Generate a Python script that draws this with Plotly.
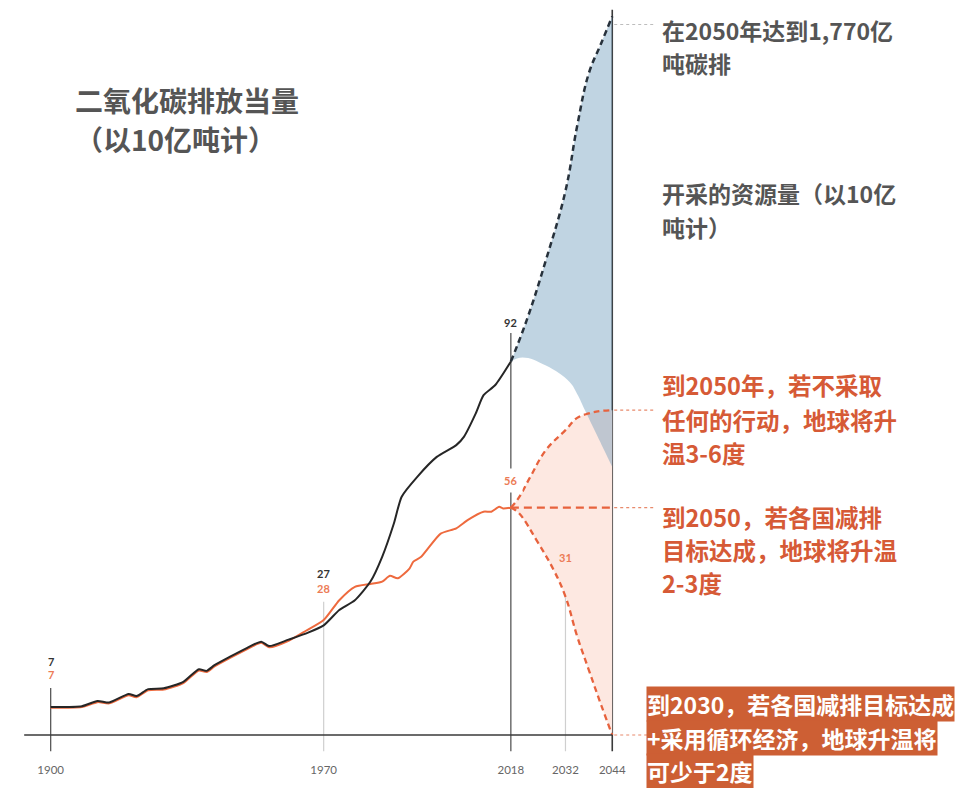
import plotly.graph_objects as go

# ---------------- data ----------------
hist_years_black = [1900, 1908, 1912, 1915, 1920, 1922, 1925, 1929, 1934, 1938, 1940, 1942, 1946,
                    1950, 1954, 1956, 1961, 1966, 1970, 1974, 1978, 1982, 1985, 1988, 1990, 1994,
                    1999, 2004, 2006, 2009, 2011, 2014, 2018]
hist_black = [6.9, 7.1, 8.4, 8.0, 10.1, 9.6, 11.3, 11.5, 13.1, 16.2, 15.8, 17.2, 19.3,
              21.3, 23.0, 21.9, 23.5, 25.2, 27.0, 30.8, 33.2, 37.8, 43.9, 52.1, 58.7, 63.6,
              68.5, 71.4, 73.5, 79.2, 83.7, 86.2, 92.0]

hist_years_red = [1900, 1908, 1912, 1915, 1920, 1922, 1925, 1929, 1934, 1938, 1940, 1942, 1946,
                  1950, 1954, 1956, 1961, 1965, 1970, 1974, 1978, 1982, 1985, 1987, 1989, 1992,
                  1993, 1995, 2000, 2004, 2007, 2011, 2013, 2015, 2016, 2018]
hist_red = [6.7, 6.9, 8.1, 7.8, 9.8, 9.3, 11.0, 11.2, 12.8, 15.9, 15.5, 16.9, 19.0,
            21.0, 22.7, 21.6, 23.2, 25.4, 28.3, 33.2, 36.5, 37.2, 37.8, 39.2, 38.6, 41.0,
            42.7, 43.9, 49.6, 50.9, 53.0, 55.0, 55.0, 56.2, 55.8, 56.0]

# projections
proj_black_years = [2018, 2022, 2027, 2032, 2035, 2038, 2041, 2044]
proj_black = [92, 102, 117, 134, 150, 163, 170, 177]

resource_low_years = [2018, 2021, 2027, 2033, 2035, 2037, 2040, 2042, 2044]
resource_low = [92, 93, 91, 87, 84, 80, 74, 70, 66]

red_up_years = [2018, 2020, 2023, 2027, 2032, 2035, 2038, 2041, 2044]
red_up = [56, 58.4, 63.6, 70.2, 75.1, 78.1, 79.2, 79.8, 80]

red_low_years = [2018, 2020, 2025, 2029, 2032, 2035, 2038, 2041, 2044]
red_low = [56, 54.7, 47.3, 40.6, 34.1, 24.3, 16, 7.8, 0]

flat_years = [2018, 2044]
flat_vals = [56, 56]

tick_years = [1900, 1970, 2018, 2032, 2044]
tick_labels = ["1900", "1970", "2018", "2032", "2044"]

black_mark_years = [1900, 1970, 2018]
black_mark_text = ["7", "27", "92"]
red_mark_years = [1900, 1970, 2018, 2032]
red_mark_text = ["7", "28", "56", "31"]

title_lines = ["二氧化碳排放当量", "（以10亿吨计）"]
grey_notes = ["在2050年达到1,770亿", "吨碳排", "开采的资源量（以10亿", "吨计）"]
red_notes_a = ["到2050年，若不采取", "任何的行动，地球将升", "温3-6度"]
red_notes_b = ["到2050，若各国减排", "目标达成，地球将升温", "2-3度"]
box_notes = ["到2030，若各国减排目标达成", "+采用循环经济，地球升温将", "可少于2度"]

# ---------------- styling ----------------
W, H = 980, 788
BLACK = "#262626"
DASH_BLACK = "#27313b"
RED = "#ee6a3e"
RED_DASH = "#e7623d"
RED_TEXT = "#d65a36"
GREY_TEXT = "#555555"
BOX = "#cd5f34"
CJK = "Noto Sans CJK SC"
NUM = "Lato"

X_RANGE = [1887.0, 2138.3]
Y_RANGE = [-13.05, 181.03]
SM = 1.2


def px(x):
    return x / W


def py(y):
    return 1 - y / H


fig = go.Figure()

# fills (no visible lines)
fig.add_trace(go.Scatter(x=red_low_years, y=red_low, mode="lines",
                         line=dict(width=0, shape="spline", smoothing=SM), hoverinfo="skip"))
fig.add_trace(go.Scatter(x=red_up_years, y=red_up, mode="lines",
                         line=dict(width=0, shape="spline", smoothing=SM),
                         fill="tonexty", fillcolor="#fde8e1", hoverinfo="skip"))
fig.add_trace(go.Scatter(x=resource_low_years, y=resource_low, mode="lines",
                         line=dict(width=0, shape="spline", smoothing=SM), hoverinfo="skip"))
fig.add_trace(go.Scatter(x=proj_black_years, y=proj_black, mode="lines",
                         line=dict(width=0, shape="spline", smoothing=SM),
                         fill="tonexty", fillcolor="rgba(97,147,182,0.40)", hoverinfo="skip"))

# dashed projection lines
fig.add_trace(go.Scatter(x=red_up_years, y=red_up, mode="lines",
                         line=dict(color=RED_DASH, width=2.3, dash="6px,4px", shape="spline", smoothing=SM)))
fig.add_trace(go.Scatter(x=red_low_years, y=red_low, mode="lines",
                         line=dict(color=RED_DASH, width=2.3, dash="6px,4px", shape="spline", smoothing=SM)))
fig.add_trace(go.Scatter(x=flat_years, y=flat_vals, mode="lines",
                         line=dict(color=RED_DASH, width=2.3, dash="8px,5px")))
fig.add_trace(go.Scatter(x=proj_black_years, y=proj_black, mode="lines",
                         line=dict(color=DASH_BLACK, width=2.5, dash="6px,4px", shape="spline", smoothing=SM)))

# historical lines
fig.add_trace(go.Scatter(x=hist_years_red, y=hist_red, mode="lines",
                         line=dict(color=RED, width=2, shape="spline", smoothing=0.6)))
fig.add_trace(go.Scatter(x=hist_years_black, y=hist_black, mode="lines",
                         line=dict(color=BLACK, width=2, shape="spline", smoothing=0.6)))

# baseline axis
fig.add_shape(type="line", x0=1893.2, x1=2044, y0=0, y1=0, xref="x", yref="y",
              line=dict(color="#3a3a3a", width=1.3), layer="above")

# vertical marker lines
v_tops = {1900: 11.6, 1970: 32.8, 2018: 99.0, 2032: 40.6, 2044: 178.6}
v_cols = {1900: "#4a4a4a", 1970: "#cfcfcf", 2018: "#4a4a4a", 2032: "#cfcfcf", 2044: "#3a3a3a"}
v_w = {1900: 1.2, 1970: 1.2, 2018: 1.2, 2032: 1.2, 2044: 1.6}
for yr in tick_years:
    fig.add_shape(type="line", x0=yr, x1=yr, y0=-4.0, y1=v_tops[yr], xref="x", yref="y",
                  line=dict(color=v_cols[yr], width=v_w[yr]), layer="below")

# dotted connectors to the notes
conn = [(175, "#bdbdbd"), (red_up[-1], "#e88a6c"), (flat_vals[-1], "#e88a6c"), (red_low[-1], "#e88a6c")]
for yv, c in conn:
    fig.add_shape(type="line", x0=2044.5, x1=2054.5, y0=yv, y1=yv, xref="x", yref="y",
                  line=dict(color=c, width=1.2, dash="dot"))

# value labels
black_mark_y = [18.2, 39.9, 101.7]
red_mark_y = [15.0, 36.2, 62.8, 43.8]
for yr, t, yv in zip(black_mark_years, black_mark_text, black_mark_y):
    fig.add_annotation(x=yr, y=yv, xref="x", yref="y", text="<b>%s</b>" % t, showarrow=False,
                       font=dict(family=NUM, size=11, color="#333333"), xanchor="center", yanchor="middle")
for yr, t, yv in zip(red_mark_years, red_mark_text, red_mark_y):
    fig.add_annotation(x=yr, y=yv, xref="x", yref="y", text="<b>%s</b>" % t, showarrow=False,
                       font=dict(family=NUM, size=11, color="#ec7b55"), xanchor="center", yanchor="middle",
                       bgcolor="white" if t == "56" else None, borderpad=5 if t == "56" else 1)

# title
for t, yc in zip(title_lines, [100, 139]):
    fig.add_annotation(x=px(73), y=py(yc), xref="paper", yref="paper", text="<b>%s</b>" % t,
                       showarrow=False, xanchor="left", yanchor="middle",
                       font=dict(family=CJK, size=28, color=GREY_TEXT))

# right notes
for t, yc in zip(grey_notes, [30, 63, 193, 227]):
    fig.add_annotation(x=px(660), y=py(yc), xref="paper", yref="paper", text="<b>%s</b>" % t,
                       showarrow=False, xanchor="left", yanchor="middle",
                       font=dict(family=CJK, size=23, color=GREY_TEXT))
for t, yc in zip(red_notes_a, [385, 420, 453]):
    fig.add_annotation(x=px(660), y=py(yc), xref="paper", yref="paper", text="<b>%s</b>" % t,
                       showarrow=False, xanchor="left", yanchor="middle",
                       font=dict(family=CJK, size=23.5, color=RED_TEXT))
for t, yc in zip(red_notes_b, [517, 550, 583]):
    fig.add_annotation(x=px(660), y=py(yc), xref="paper", yref="paper", text="<b>%s</b>" % t,
                       showarrow=False, xanchor="left", yanchor="middle",
                       font=dict(family=CJK, size=23.5, color=RED_TEXT))
for t, yt in zip(box_notes, [686, 719.5, 753]):
    fig.add_annotation(x=px(646), y=py(yt), xref="paper", yref="paper", text="<b>%s</b>" % t,
                       showarrow=False, xanchor="left", yanchor="top", bgcolor=BOX, borderpad=0,
                       font=dict(family=CJK, size=23, color="white"))

fig.update_layout(
    width=W, height=H,
    margin=dict(l=0, r=0, t=0, b=0),
    paper_bgcolor="white", plot_bgcolor="white",
    showlegend=False,
    xaxis=dict(range=X_RANGE, showgrid=False, zeroline=False, showline=False,
               tickvals=tick_years, ticktext=tick_labels, ticks="",
               anchor="free", position=(0 - Y_RANGE[0]) / (Y_RANGE[1] - Y_RANGE[0]),
               ticklabelstandoff=26,
               tickfont=dict(family=NUM, size=11.5, color="#666666"), fixedrange=True),
    yaxis=dict(range=Y_RANGE, visible=False, fixedrange=True),
)

fig.write_html("out.html")
